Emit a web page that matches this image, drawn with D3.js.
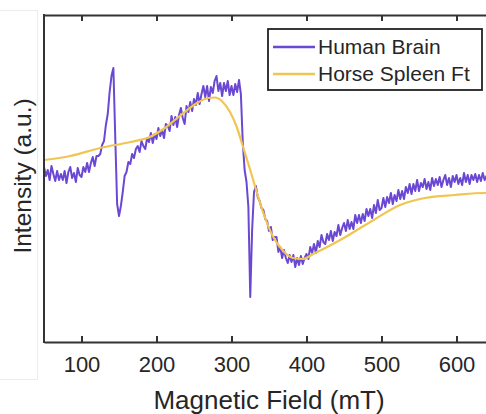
<!DOCTYPE html>
<html>
<head>
<meta charset="utf-8">
<script src="https://cdn.jsdelivr.net/npm/d3@7"></script>
<style>
  html, body { margin: 0; padding: 0; background: #ffffff; }
  svg { display: block; }
  text { font-family: "Liberation Sans", Arial, Helvetica, sans-serif; fill: #262626; }
</style>
</head>
<body>
<script>
// ---------------- DATA ----------------
const seriesNames = ["Human Brain", "Horse Spleen Ft"];
const seriesColors = ["#6a48d4", "#f0c552"];
const xTicks = [100, 200, 300, 400, 500, 600];
const xLabel = "Magnetic Field (mT)";
const yLabel = "Intensity (a.u.)";

// Human Brain spectrum: sampled every 2.5 mT starting at 50 mT (arbitrary intensity units)
const brainFieldStart = 50;
const brainFieldStep = 2.5;
const brainIntensity = [
  175,166,172,162,176,168,161,171,162,168,
  162,171,159,170,175,164,169,160,174,167,
  165,175,170,179,170,179,185,176,186,186,
  188,197,201,217,228,250,266,274,205,138,
  126,136,150,166,170,180,178,188,184,193,
  196,190,201,196,193,204,200,209,199,208,
  203,214,206,212,204,218,216,211,226,217,
  225,215,227,234,224,218,236,230,240,231,
  243,237,249,238,248,256,245,256,241,255,
  249,261,266,251,259,246,259,251,261,247,
  256,247,258,250,262,248,200,172,160,135,
  45,112,150,156,145,141,134,132,123,121,
  111,115,102,105,105,90,95,84,92,84,
  79,87,80,87,75,84,77,86,78,84,
  88,83,95,89,98,89,101,95,107,100,
  98,108,102,111,101,110,106,117,107,114,
  119,111,122,113,120,113,127,119,127,119,
  128,121,133,126,133,124,137,129,142,132,
  134,144,135,145,139,149,138,147,141,152,
  143,151,143,155,149,158,148,158,151,162,
  151,159,155,163,153,160,152,164,156,163,
  157,165,155,162,167,157,164,155,166,160,
  167,158,164,157,169,160,167,158,167,162,
  168,160,167,161,169,162,166,163,168,162,
  166
];

// Horse Spleen Ferritin spectrum (smooth)
const spleenField = [50,85,125,165,191,211,231,254,269,278,287,298,307,315,325,334,342,355,369,382,395,409,445,485,525,558,598,638,650];
const spleenIntensity = [182,186,194,200,205,214,226,239,244,244.5,241,230,215,196,172,149,130,106,91,84,83,88,102,120,137,144,147,149,149];

// ---------------- CHART ----------------
const W = 486, H = 414;
const plot = { left: 44, top: 15, right: 494, bottom: 342 };

const svg = d3.select("body").append("svg")
  .attr("width", W).attr("height", H);

// faint scan frame at left edge of original figure
const faint = svg.append("g").attr("stroke", "#ececec").attr("stroke-width", 1).attr("fill", "none");
faint.append("path").attr("d", "M0,10.5H37.5V379.5H0");

const x = d3.scaleLinear().domain([50, 650]).range([plot.left, plot.right]);
const y = d3.scaleLinear().domain([0, 327]).range([plot.bottom, plot.top]);

svg.append("clipPath").attr("id", "clip")
  .append("rect")
  .attr("x", plot.left).attr("y", plot.top)
  .attr("width", plot.right - plot.left).attr("height", plot.bottom - plot.top);

const brainData = brainIntensity.map((v, i) => ({ f: brainFieldStart + i * brainFieldStep, v }));
const spleenData = spleenField.map((f, i) => ({ f, v: spleenIntensity[i] }));

const dataG = svg.append("g").attr("clip-path", "url(#clip)");

dataG.append("path")
  .datum(brainData)
  .attr("fill", "none")
  .attr("stroke", seriesColors[0])
  .attr("stroke-width", 2)
  .attr("stroke-linejoin", "round")
  .attr("d", d3.line().x(d => x(d.f)).y(d => y(d.v)));

dataG.append("path")
  .datum(spleenData)
  .attr("fill", "none")
  .attr("stroke", seriesColors[1])
  .attr("stroke-width", 2.2)
  .attr("d", d3.line().curve(d3.curveMonotoneX).x(d => x(d.f)).y(d => y(d.v)));

// axes
const axisColor = "#333";
const bottomAxis = svg.append("g")
  .attr("transform", `translate(0,${plot.bottom})`)
  .call(d3.axisBottom(x).tickValues(xTicks).tickSizeInner(-6).tickSizeOuter(0).tickPadding(14));
const topAxis = svg.append("g")
  .attr("transform", `translate(0,${plot.top})`)
  .call(d3.axisTop(x).tickValues(xTicks).tickSizeInner(-6).tickSizeOuter(0).tickFormat(""));
[bottomAxis, topAxis].forEach(g => {
  g.select(".domain").attr("stroke", axisColor).attr("stroke-width", 2);
  g.selectAll(".tick line").attr("stroke", axisColor).attr("stroke-width", 2);
});
bottomAxis.selectAll(".tick text")
  .attr("font-size", 22)
  .attr("font-family", "'Liberation Sans', Arial, sans-serif")
  .attr("fill", "#262626");

// left axis line
svg.append("line")
  .attr("x1", plot.left).attr("x2", plot.left)
  .attr("y1", plot.top - 1).attr("y2", plot.bottom + 1)
  .attr("stroke", axisColor).attr("stroke-width", 2);

// axis labels
svg.append("text")
  .attr("x", (plot.left + plot.right) / 2)
  .attr("y", 409)
  .attr("text-anchor", "middle")
  .attr("font-size", 26)
  .text(xLabel);

svg.append("text")
  .attr("transform", `translate(31,176) rotate(-90)`)
  .attr("text-anchor", "middle")
  .attr("font-size", 24.5)
  .text(yLabel);

// legend
const lg = svg.append("g");
lg.append("rect")
  .attr("x", 268).attr("y", 29).attr("width", 214).attr("height", 61)
  .attr("fill", "#fff").attr("stroke", "#222").attr("stroke-width", 1.8);
seriesNames.forEach((name, i) => {
  const yy = 47 + i * 27;
  lg.append("line")
    .attr("x1", 273).attr("x2", 315).attr("y1", yy).attr("y2", yy)
    .attr("stroke", seriesColors[i]).attr("stroke-width", 2.5);
  lg.append("text")
    .attr("x", 318).attr("y", yy + 7)
    .attr("font-size", 21)
    .text(name);
});
</script>
</body>
</html>
